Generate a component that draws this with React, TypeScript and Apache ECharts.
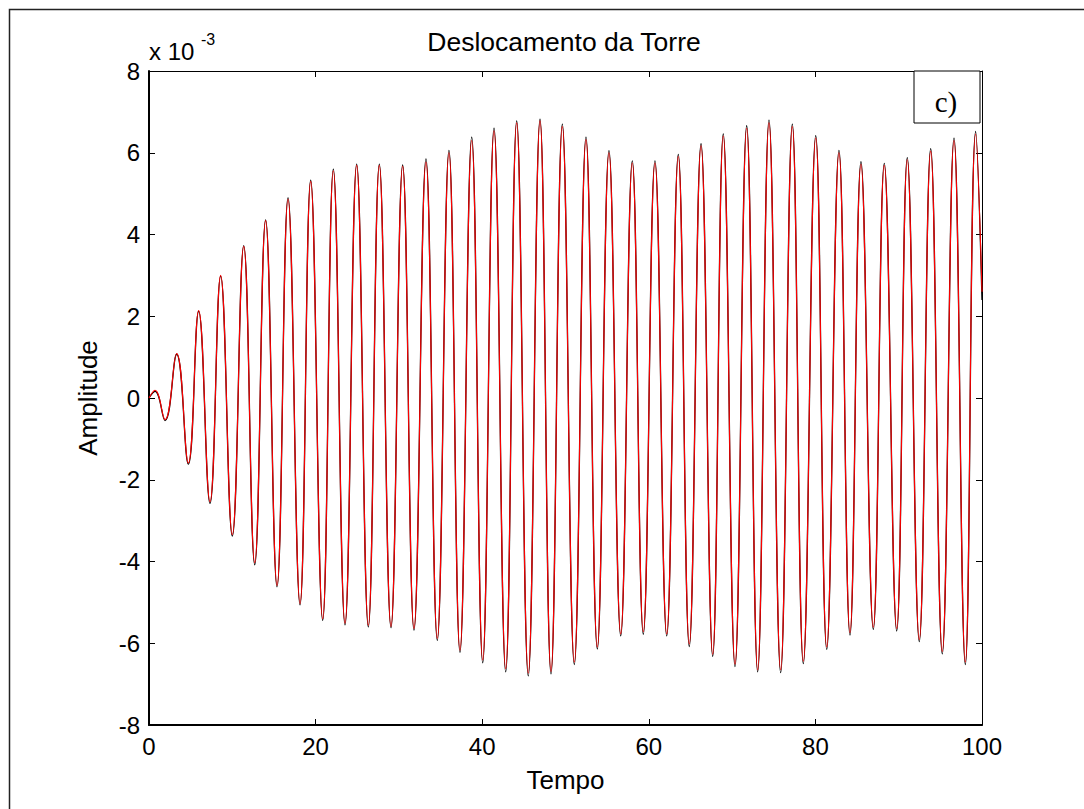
import React, { useEffect, useRef } from "react";
import * as echarts from "echarts";

// Extrema of the response (time in s, amplitude in units of 1e-3)
const times = [
  0, 0.72, 1.92, 3.32, 4.72, 5.96, 7.32, 8.6, 10.0, 11.37, 12.69, 14.0, 15.37, 16.69, 18.13,
  19.41, 20.85, 22.13, 23.53, 24.93, 26.33, 27.65, 29.05, 30.45, 31.81, 33.25, 34.61, 36.01,
  37.33, 38.74, 40.06, 41.42, 42.82, 44.14, 45.53, 46.94, 48.26, 49.62, 51.06, 52.46, 53.82,
  55.22, 56.63, 58.02, 59.34, 60.74, 62.15, 63.54, 64.86, 66.27, 67.67, 68.94, 70.35, 71.75,
  73.07, 74.43, 75.83, 77.23, 78.55, 80.04, 81.36, 82.83, 84.15, 85.47, 86.95, 88.27, 89.76,
  91.03, 92.47, 93.84, 95.23, 96.64, 98.0, 99.24, 100,
];

const redValues = [
  0, 0.19, -0.53, 1.09, -1.59, 2.14, -2.54, 3.0, -3.34, 3.71, -4.03, 4.34, -4.59, 4.87, -5.03,
  5.3, -5.4, 5.56, -5.51, 5.69, -5.56, 5.69, -5.59, 5.67, -5.64, 5.77, -5.88, 6.0,
  -6.17, 6.3, -6.41, 6.54, -6.62, 6.73, -6.73, 6.78, -6.69, 6.64, -6.46, 6.32, -6.09,
  6.0, -5.77, 5.75, -5.72, 5.75, -5.77, 5.91, -6.02, 6.17, -6.27, 6.41, -6.51, 6.6,
  -6.65, 6.73, -6.65, 6.64, -6.44, 6.36, -6.09, 6.0, -5.74, 5.72, -5.61, 5.69, -5.64,
  5.83, -5.91, 6.04, -6.2, 6.3, -6.46, 6.46, 2.6,
];

const blackValues = [
  0, 0.16, -0.55, 1.07, -1.62, 2.12, -2.58, 2.98, -3.38, 3.73, -4.08, 4.36, -4.62, 4.9, -5.06,
  5.33, -5.44, 5.6, -5.55, 5.72, -5.6, 5.72, -5.62, 5.7, -5.68, 5.85, -5.93, 6.06,
  -6.22, 6.38, -6.48, 6.6, -6.7, 6.78, -6.8, 6.82, -6.75, 6.7, -6.52, 6.38, -6.14,
  6.05, -5.82, 5.8, -5.78, 5.8, -5.82, 5.96, -6.08, 6.22, -6.32, 6.46, -6.57, 6.66,
  -6.7, 6.8, -6.72, 6.7, -6.5, 6.42, -6.15, 6.06, -5.8, 5.78, -5.66, 5.74, -5.7,
  5.88, -5.96, 6.1, -6.26, 6.36, -6.52, 6.52, 2.4,
];

const xTicks = { min: 0, max: 100, interval: 20 };
const yTicks = { min: -8, max: 8, interval: 2 };

const FONT = "Liberation Sans";

export default function App() {
  const ref = useRef<HTMLDivElement>(null);

  useEffect(() => {
    if (!ref.current) return;
    const chart = echarts.init(ref.current, undefined, { renderer: "svg" });
    const red = times.map((t, i) => [t, redValues[i]]);
    const black = times.map((t, i) => [t, blackValues[i]]);

    const tickStyle = { show: true, inside: true, length: 6, lineStyle: { color: "#000", width: 1 } };

    chart.setOption({
      animation: false,
      backgroundColor: "#fff",
      grid: { left: 149, top: 71, width: 833, height: 654, containLabel: false },
      xAxis: [
        {
          type: "value",
          position: "bottom",
          ...xTicks,
          axisLine: { show: true, onZero: false, lineStyle: { color: "#000", width: 2 } },
          axisTick: tickStyle,
          axisLabel: { fontSize: 24, color: "#000", fontFamily: FONT, margin: 9 },
          splitLine: { show: false },
          name: "Tempo",
          nameLocation: "middle",
          nameGap: 42,
          nameTextStyle: { fontSize: 26, color: "#000", fontFamily: FONT },
        },
        {
          type: "value",
          position: "top",
          ...xTicks,
          axisLine: { show: true, onZero: false, lineStyle: { color: "#000", width: 1 } },
          axisTick: tickStyle,
          axisLabel: { show: false },
          splitLine: { show: false },
        },
      ],
      yAxis: [
        {
          type: "value",
          position: "left",
          ...yTicks,
          axisLine: { show: true, onZero: false, lineStyle: { color: "#000", width: 2 } },
          axisTick: tickStyle,
          axisLabel: { fontSize: 24, color: "#000", fontFamily: FONT, margin: 9 },
          splitLine: { show: false },
          name: "Amplitude",
          nameLocation: "middle",
          nameGap: 48,
          nameTextStyle: { fontSize: 26, color: "#000", fontFamily: FONT },
        },
        {
          type: "value",
          position: "right",
          ...yTicks,
          axisLine: { show: true, onZero: false, lineStyle: { color: "#000", width: 1 } },
          axisTick: tickStyle,
          axisLabel: { show: false },
          splitLine: { show: false },
        },
      ],
      series: [
        {
          type: "line",
          data: black,
          xAxisIndex: 0,
          yAxisIndex: 0,
          showSymbol: false,
          smooth: 0.45,
          lineStyle: { color: "#000", width: 1.3 },
          z: 2,
        },
        {
          type: "line",
          data: red,
          xAxisIndex: 0,
          yAxisIndex: 0,
          showSymbol: false,
          smooth: 0.45,
          lineStyle: { color: "#ff0000", width: 1.1 },
          z: 3,
        },
      ],
      graphic: [
        {
          type: "rect",
          shape: { x: 9.5, y: 9.5, width: 1200, height: 1000 },
          style: { fill: "none", stroke: "#222", lineWidth: 1.5 },
          silent: true,
        },
        {
          type: "text",
          x: 564,
          y: 42,
          style: {
            text: "Deslocamento da Torre",
            font: `26.5px "${FONT}"`,
            fill: "#000",
            textAlign: "center",
            textVerticalAlign: "middle",
          },
        },
        {
          type: "text",
          x: 149,
          y: 51,
          style: {
            text: "x 10",
            font: `24px "${FONT}"`,
            fill: "#000",
            textAlign: "left",
            textVerticalAlign: "middle",
          },
        },
        {
          type: "text",
          x: 201,
          y: 39,
          style: {
            text: "-3",
            font: `16px "${FONT}"`,
            fill: "#000",
            textAlign: "left",
            textVerticalAlign: "middle",
          },
        },
        {
          type: "rect",
          shape: { x: 914, y: 71, width: 66, height: 52 },
          style: { fill: "#fff", stroke: "#000", lineWidth: 1 },
          z: 100,
        },
        {
          type: "text",
          x: 946,
          y: 102,
          z: 101,
          style: {
            text: "c)",
            font: `29px "Liberation Serif"`,
            fill: "#000",
            textAlign: "center",
            textVerticalAlign: "middle",
          },
        },
      ],
    });
    return () => chart.dispose();
  }, []);

  return (
    <div
      ref={ref}
      style={{ position: "fixed", left: 0, top: 0, width: 1084, height: 809, background: "#fff" }}
    />
  );
}
